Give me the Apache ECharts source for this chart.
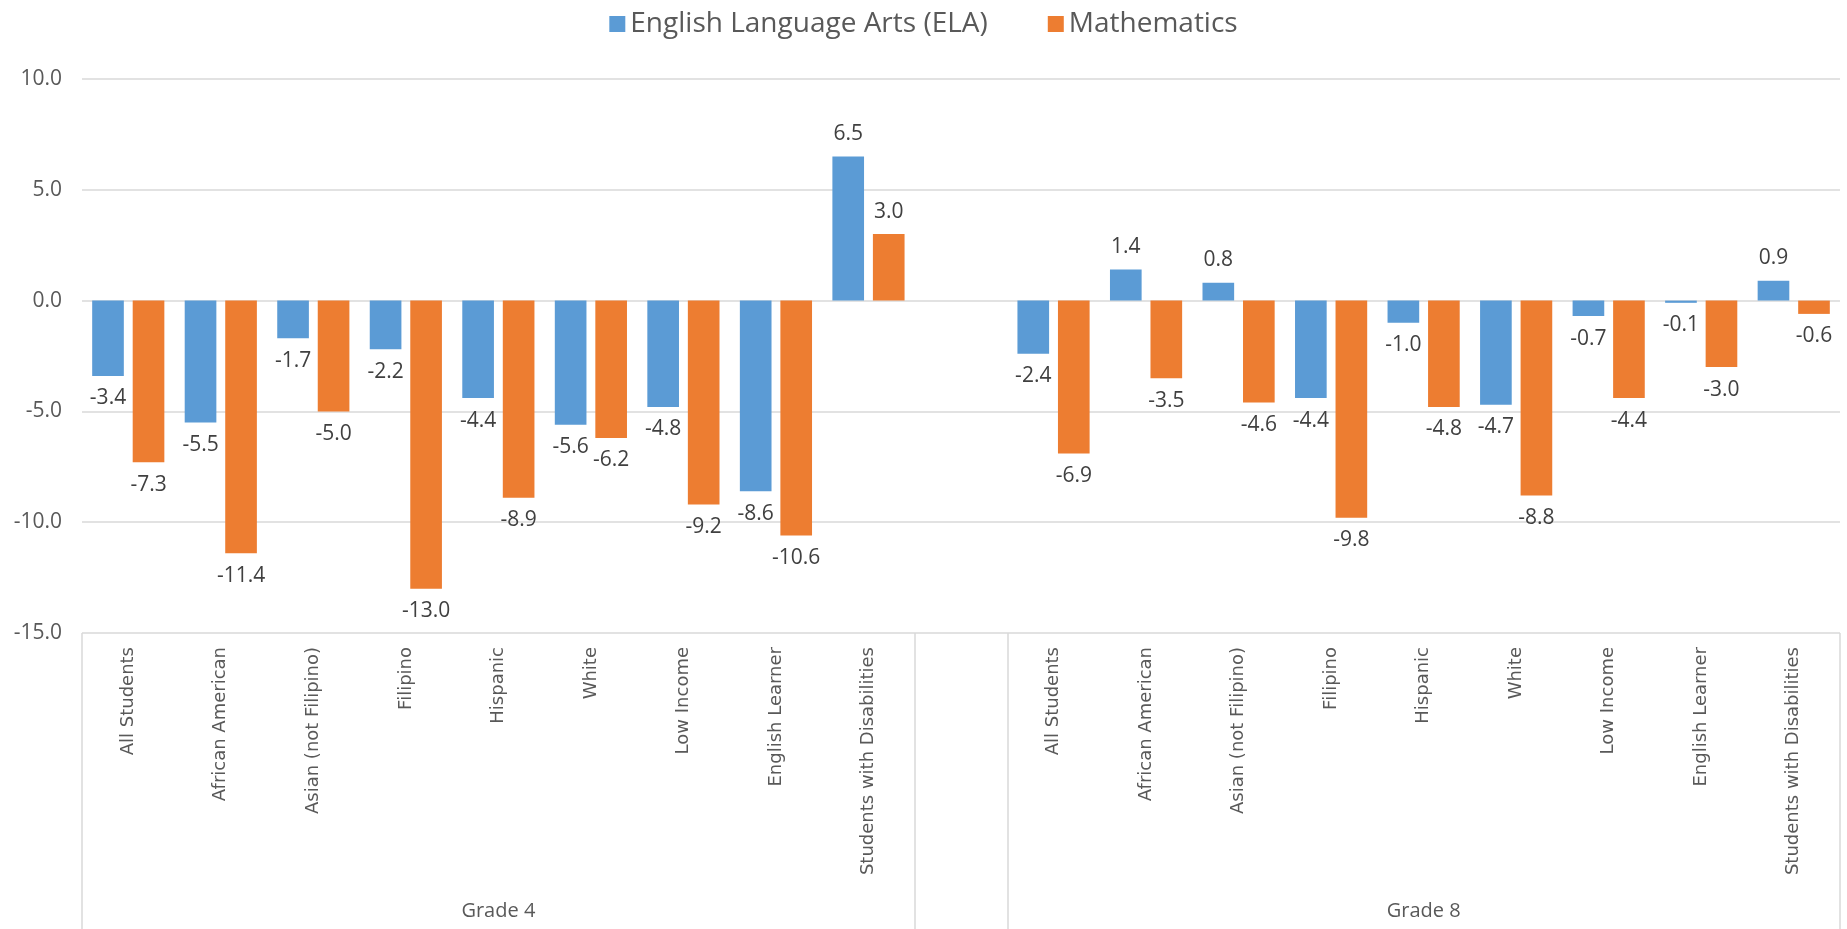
<!DOCTYPE html>
<html>
<head>
<meta charset="utf-8">
<script src="https://cdn.jsdelivr.net/npm/echarts@6/dist/echarts.min.js"></script>
<style>
  html, body { margin: 0; padding: 0; background: #fff; }
  #main { width: 1847px; height: 929px; }
</style>
</head>
<body>
<div id="main"></div>
<script>
// student groups, same list for both grades
var subgroups = ['All Students', 'African American', 'Asian (not Filipino)', 'Filipino', 'Hispanic',
  'White', 'Low Income', 'English Learner', 'Students with Disabilities'];
var grades = ['Grade 4', 'Grade 8'];

var elaGrade4 = [-3.4, -5.5, -1.7, -2.2, -4.4, -5.6, -4.8, -8.6, 6.5];
var mathGrade4 = [-7.3, -11.4, -5.0, -13.0, -8.9, -6.2, -9.2, -10.6, 3.0];
var elaGrade8 = [-2.4, 1.4, 0.8, -4.4, -1.0, -4.7, -0.7, -0.1, 0.9];
var mathGrade8 = [-6.9, -3.5, -4.6, -9.8, -4.8, -8.8, -4.4, -3.0, -0.6];

var yTicks = [-15, -10, -5, 0, 5, 10];

// one empty slot between the two grades
var categories = subgroups.concat(['']).concat(subgroups);
var elaData = elaGrade4.concat([null]).concat(elaGrade8);
var mathData = mathGrade4.concat([null]).concat(mathGrade8);
var n = categories.length;

var textColor = '#595959';
var lineColor = '#d9d9d9';

var labelOpt = {
  show: true,
  position: 'outside',
  distance: 12,
  color: '#404040',
  fontFamily: 'Open Sans',
  fontSize: 21,
  formatter: function (p) { return p.value.toFixed(1); }
};

var chart = echarts.init(document.getElementById('main'));
chart.setOption({
  animation: false,
  legend: {
    top: 5,
    left: 'center',
    itemWidth: 16,
    itemHeight: 16,
    itemGap: 60,
    icon: 'rect',
    textStyle: { color: textColor, fontFamily: 'Open Sans', fontSize: 28 },
    data: ['English Language Arts (ELA)', 'Mathematics']
  },
  grid: { left: 82, right: 7, top: 79, bottom: 296 },
  xAxis: [{
    type: 'category',
    data: categories,
    axisLine: { show: false },
    axisTick: { show: false },
    axisLabel: {
      interval: 0,
      rotate: 90,
      margin: 14,
      color: textColor,
      fontFamily: 'DejaVu Sans',
      fontSize: 18
    }
  }, {
    // grade groups: separator lines and group names
    type: 'value',
    min: 0,
    max: n,
    position: 'bottom',
    axisLine: { show: false },
    splitLine: { show: false },
    axisTick: {
      show: true,
      customValues: [0, subgroups.length, subgroups.length + 1, n],
      length: 300,
      lineStyle: { color: lineColor, width: 1.5 }
    },
    axisLabel: {
      customValues: [subgroups.length / 2, subgroups.length + 1 + subgroups.length / 2],
      formatter: function (v) { return v < subgroups.length ? grades[0] : grades[1]; },
      margin: 268,
      color: textColor,
      fontFamily: 'Open Sans',
      fontSize: 20
    }
  }],
  yAxis: {
    type: 'value',
    min: yTicks[0],
    max: yTicks[yTicks.length - 1],
    interval: 5,
    axisLine: { show: false },
    axisTick: { show: false },
    axisLabel: {
      margin: 20,
      color: textColor,
      fontFamily: 'Open Sans',
      fontSize: 21,
      formatter: function (v) { return v.toFixed(1); }
    },
    splitLine: { lineStyle: { color: lineColor, width: 1.5 } }
  },
  series: [{
    name: 'English Language Arts (ELA)',
    type: 'bar',
    data: elaData,
    itemStyle: { color: '#5B9BD5' },
    barGap: '28%',
    barCategoryGap: '22%',
    label: labelOpt
  }, {
    name: 'Mathematics',
    type: 'bar',
    data: mathData,
    itemStyle: { color: '#ED7D31' },
    barGap: '28%',
    barCategoryGap: '22%',
    label: labelOpt
  }]
});
</script>
</body>
</html>
